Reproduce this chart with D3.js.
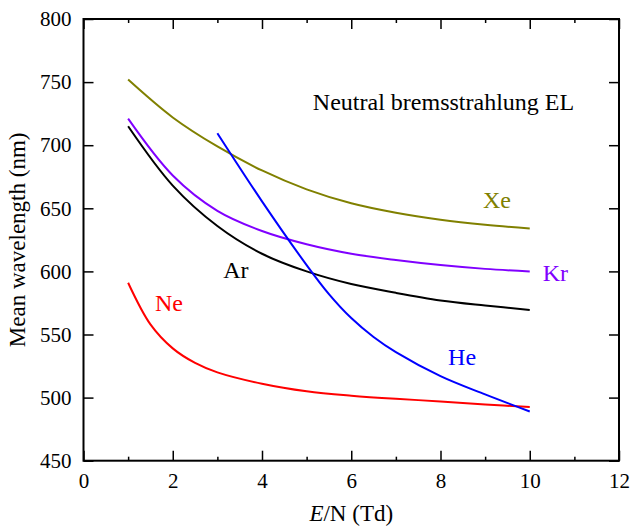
<!DOCTYPE html>
<html>
<head>
<meta charset="utf-8">
<script src="https://cdn.jsdelivr.net/npm/d3@7/dist/d3.min.js"></script>
<style>
  body { margin: 0; background: #fff; }
</style>
</head>
<body>
<div id="chart"></div>
<script>
// E/N values (Td) and mean wavelength (nm) for each gas
var fieldX = [1, 2, 3, 4, 5, 6, 7, 8, 9, 10];
var neX = [1, 1.5, 2, 2.5, 3, 4, 5, 6, 7, 8, 9, 10];
var heX = [3, 4, 5, 5.5, 6, 6.5, 7, 8, 9, 10];

var xeVals = [752, 722, 699, 680, 665, 654, 646.5, 641, 637, 634];
var krVals = [721, 676, 648, 632, 621.5, 614, 609, 605, 602, 600];
var arVals = [715, 668, 636, 614, 600, 590, 583, 577, 573, 569.5];
var neVals = [591, 558, 539, 527.5, 520, 511, 505, 501.5, 499, 497, 494.5, 492.5];
var heVals = [709.5, 655.5, 605, 582, 563, 548, 536, 517, 502.5, 489];

var xTicks = [0, 2, 4, 6, 8, 10, 12];
var xMinor = [1, 3, 5, 7, 9, 11];
var yTicks = [450, 500, 550, 600, 650, 700, 750, 800];

var width = 631,
  height = 530;
var serif = '"Liberation Serif", "Times New Roman", Times, serif';

var x = d3.scaleLinear().domain([0, 12]).range([83.5, 619]);
var y = d3.scaleLinear().domain([450, 800]).range([460.7, 19]);

var svg = d3
  .select("#chart")
  .append("svg")
  .attr("width", width)
  .attr("height", height);

// series: name, colour, x values, y values, label position (data units)
var series = [
  { name: "Xe", color: "#808000", xs: fieldX, ys: xeVals, lx: 8.95, ly: 650.3 },
  { name: "Kr", color: "#8000ff", xs: fieldX, ys: krVals, lx: 10.29, ly: 592.5 },
  { name: "Ar", color: "#000000", xs: fieldX, ys: arVals, lx: 3.13, ly: 594.9 },
  { name: "Ne", color: "#ff0000", xs: neX, ys: neVals, lx: 1.6, ly: 568.7 },
  { name: "He", color: "#0000ff", xs: heX, ys: heVals, lx: 8.17, ly: 526 }
];

var line = d3
  .line()
  .x(function(d) {
    return x(d[0]);
  })
  .y(function(d) {
    return y(d[1]);
  })
  .curve(d3.curveCatmullRom.alpha(0.5));

svg
  .selectAll("path.curve")
  .data(series)
  .enter()
  .append("path")
  .attr("class", "curve")
  .attr("fill", "none")
  .attr("stroke", function(d) {
    return d.color;
  })
  .attr("stroke-width", 2)
  .attr("d", function(d) {
    return line(d3.zip(d.xs, d.ys));
  });

svg
  .selectAll("text.lab")
  .data(series)
  .enter()
  .append("text")
  .attr("class", "lab")
  .attr("x", function(d) {
    return x(d.lx);
  })
  .attr("y", function(d) {
    return y(d.ly);
  })
  .attr("fill", function(d) {
    return d.color;
  })
  .style("font-family", serif)
  .style("font-size", "24px")
  .text(function(d) {
    return d.name;
  });

svg
  .append("text")
  .attr("x", x(5.14))
  .attr("y", y(727.9))
  .style("font-family", serif)
  .style("font-size", "24px")
  .text("Neutral bremsstrahlung EL");

// axes, ticks pointing inward
function styleAxis(g) {
  g.select(".domain").remove();
  g.attr("font-family", null);
  g.selectAll("line").attr("stroke", "#000").attr("stroke-width", 1.5);
  g.selectAll("text")
    .style("font-family", serif)
    .style("font-size", "21px")
    .attr("fill", "#000");
}

svg
  .append("g")
  .attr("transform", "translate(0," + y(450) + ")")
  .call(d3.axisBottom(x).tickValues(xTicks).tickSizeInner(-10).tickSizeOuter(0).tickPadding(12))
  .call(styleAxis);

svg
  .append("g")
  .attr("transform", "translate(0," + y(450) + ")")
  .call(d3.axisBottom(x).tickValues(xMinor).tickSizeInner(-4).tickSizeOuter(0).tickFormat(""))
  .call(styleAxis);

svg
  .append("g")
  .attr("transform", "translate(0," + y(800) + ")")
  .call(d3.axisTop(x).tickValues(xTicks).tickSizeInner(-10).tickSizeOuter(0).tickFormat(""))
  .call(styleAxis);

svg
  .append("g")
  .attr("transform", "translate(0," + y(800) + ")")
  .call(d3.axisTop(x).tickValues(xMinor).tickSizeInner(-4).tickSizeOuter(0).tickFormat(""))
  .call(styleAxis);

svg
  .append("g")
  .attr("transform", "translate(" + x(0) + ",0)")
  .call(d3.axisLeft(y).tickValues(yTicks).tickSizeInner(-10).tickSizeOuter(0).tickPadding(12))
  .call(styleAxis);

svg
  .append("g")
  .attr("transform", "translate(" + x(12) + ",0)")
  .call(d3.axisRight(y).tickValues(yTicks).tickSizeInner(-10).tickSizeOuter(0).tickFormat(""))
  .call(styleAxis);

// frame
svg
  .append("rect")
  .attr("x", x(0))
  .attr("y", y(800))
  .attr("width", x(12) - x(0))
  .attr("height", y(450) - y(800))
  .attr("fill", "none")
  .attr("stroke", "#000")
  .attr("stroke-width", 2);

// axis titles
var xTitle = svg
  .append("text")
  .attr("x", (x(0) + x(12)) / 2)
  .attr("y", 521)
  .attr("text-anchor", "middle")
  .style("font-family", serif)
  .style("font-size", "23px");
xTitle.append("tspan").style("font-style", "italic").text("E");
xTitle.append("tspan").text("/N (Td)");

svg
  .append("text")
  .attr("transform", "translate(25," + (y(450) + y(800)) / 2 + ") rotate(-90)")
  .attr("text-anchor", "middle")
  .style("font-family", serif)
  .style("font-size", "23px")
  .text("Mean wavelength (nm)");
</script>
</body>
</html>
